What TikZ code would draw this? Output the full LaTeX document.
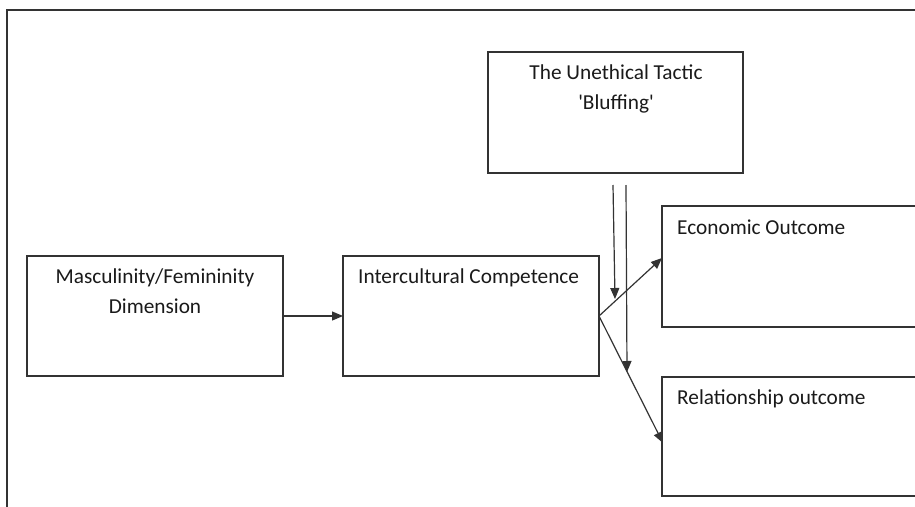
\documentclass[tikz,border=0pt]{standalone}
\usepackage{fontspec}
\setmainfont{Carlito}
\usetikzlibrary{arrows.meta,calc}
\definecolor{linec}{HTML}{333333}
\definecolor{txtc}{HTML}{1A1A1A}
\begin{document}
\begin{tikzpicture}[x=1pt,y=-1pt,
  box/.style={draw=linec, line width=1.2pt, anchor=north west, inner sep=0pt, outer sep=0pt},
  lbl/.style={text=txtc, font=\fontsize{21.3}{30}\selectfont, inner sep=0pt, anchor=base},
  lbll/.style={lbl, anchor=base west},
  conn/.style={draw=linec, line width=1.2pt, -{Triangle[length=11pt,width=9pt]}}]
\clip (0,0) rectangle (915,506);
\fill[white] (0,0) rectangle (915,506);
% outer frame
\draw[linec, line width=1.2pt] (7,520) -- (7,10) -- (930,10);
% boxes
\node[box, minimum width=256pt, minimum height=120pt] (mf) at (27,256) {};
\node[box, minimum width=256pt, minimum height=120pt] (ic) at (343,256) {};
\node[box, minimum width=255pt, minimum height=121pt] (bl) at (488,52) {};
\node[box, minimum width=300pt, minimum height=121pt] (eo) at (662,206) {};
\node[box, minimum width=300pt, minimum height=119pt] (ro) at (662,377) {};
% texts
\node[lbl] (t1) at (155,283) {Masculinity/Femininity};
\node[lbl] (t2) at (155,313) {Dimension};
\node[lbll] (t3) at (358,283) {Intercultural Competence};
\node[lbl] (t4) at (616,79) {The Unethical Tactic};
\node[lbl] (t5) at (616,109) {\textquotesingle Bluffing\textquotesingle};
\node[lbll] (t6) at (677,234) {Economic Outcome};
\node[lbll] (t7) at (677,404) {Relationship outcome};
% connectors
\coordinate (jn) at (599,316);
\coordinate (eIn) at (662,258);
\coordinate (rIn) at (663,443);
\coordinate (v1s) at (613,185);
\coordinate (v1e) at (615,299);
\coordinate (v2s) at (626,185);
\coordinate (v2e) at (627,372);
\draw[conn] (mf.east) -- (ic.west);
\draw[conn] (jn) -- (eIn);
\draw[conn] (jn) -- (rIn);
\draw[conn] (v1s) -- (v1e);
\draw[conn] (v2s) -- (v2e);
\end{tikzpicture}
\end{document}
